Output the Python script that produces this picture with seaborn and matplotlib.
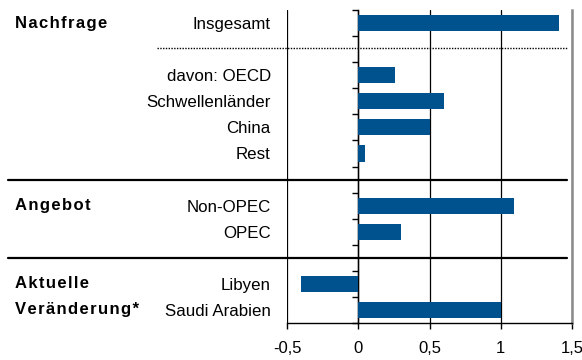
import matplotlib
matplotlib.use("Agg")
import matplotlib.pyplot as plt
import matplotlib.transforms as mtransforms
import numpy as np
import pandas as pd
import seaborn as sns

# Rows of the chart (empty rows separate the blocks)
row_labels = ["Insgesamt", "", "davon: OECD", "Schwellenländer", "China", "Rest",
              "", "Non-OPEC", "OPEC", "", "Libyen", "Saudi Arabien"]
row_values = [1.41, np.nan, 0.26, 0.60, 0.50, 0.05,
              np.nan, 1.09, 0.30, np.nan, -0.40, 1.00]
# Block headings and the row each one sits on
group_labels = ["Nachfrage", "Angebot", "Aktuelle", "Veränderung*"]
group_rows = [0, 7, 10, 11]
# Rows on which the separators are drawn
dotted_rows = [1]
solid_rows = [6, 9]
x_ticks = [-0.5, 0, 0.5, 1, 1.5]
x_tick_labels = ["-0,5", "0", "0,5", "1", "1,5"]

BAR = "#00528F"

sns.set_theme(style="white")
plt.rcParams["font.family"] = ["Liberation Sans", "DejaVu Sans"]

rows = list(range(len(row_labels)))
df = pd.DataFrame({"row": rows, "value": row_values})

fig = plt.figure(figsize=(5.82, 3.60), dpi=100)
ax = fig.add_axes([287 / 582, 1 - 323 / 360, (572 - 287) / 582, (323 - 10) / 360])

sns.barplot(data=df, x="value", y="row", orient="h", order=rows, color=BAR,
            saturation=1, width=0.62, ax=ax, zorder=3, linewidth=0,
            edgecolor=BAR)

ax.set_xlim(-0.5, 1.5)
ax.set_ylim(len(rows) - 0.5, -0.5)
ax.set_xlabel("")
ax.set_ylabel("")

# x axis
ax.set_xticks(x_ticks, x_tick_labels)
ax.tick_params(axis="x", direction="out", length=4, width=1, color="black",
               labelsize=12, pad=9, labelcolor="black", bottom=True)
ax.grid(axis="x", color="black", lw=0.9)
ax.grid(axis="y", visible=False)
ax.set_axisbelow(True)

# y axis on the zero line, with ticks between the rows
ax.spines["left"].set_position(("data", 0))
ax.spines["left"].set_color("black")
ax.spines["left"].set_linewidth(1.0)
ax.spines["bottom"].set_color("black")
ax.spines["bottom"].set_linewidth(1.0)
ax.spines["top"].set_visible(False)
ax.spines["right"].set_color("#8a8a8a")
ax.spines["right"].set_linewidth(1.8)

ax.set_yticks(rows, row_labels)
ax.set_yticks(np.arange(-0.5, len(rows), 1), minor=True)
ax.tick_params(axis="y", which="major", length=0, pad=63, labelsize=12.2,
               labelcolor="black")
ax.tick_params(axis="y", which="minor", direction="out", length=4.5, width=1,
               color="black", left=True)

# Block separators reaching into the label column
blend = mtransforms.blended_transform_factory(fig.transFigure, ax.transData)
for r in solid_rows:
    ax.plot([8 / 582, 567 / 582], [r, r], transform=blend, color="black",
            lw=1.6, clip_on=False, zorder=4)
for r in dotted_rows:
    ax.plot([157 / 582, 567 / 582], [r - 0.05, r - 0.05], transform=blend,
            color="black", lw=1.0, ls=(0, (1, 1)), clip_on=False, zorder=4)

# Block headings with wide letter spacing
for text, r in zip(group_labels, group_rows):
    spaced = "\u200a".join(text)
    ax.text(15 / 582, r, spaced, transform=blend, ha="left", va="center",
            fontsize=12, fontweight="bold", color="black")

fig.savefig("out.png", dpi=100)
